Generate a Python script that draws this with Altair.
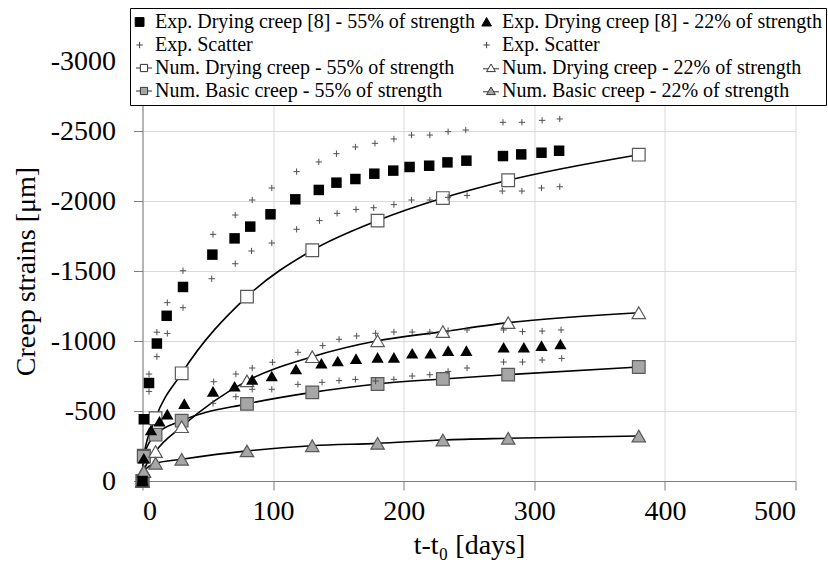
import json
import altair as alt
import pandas as pd

FONT = "Liberation Serif"

# ---------------- data ----------------
# Experimental drying creep, 55% of strength (black squares)
exp55_days = [0, 1, 5, 11, 18.5, 31, 53.5, 70.5, 82.5, 98, 117, 135, 148.5, 163,
              177.5, 192, 204.5, 219.5, 233.5, 248, 276, 290, 305.5, 319]
exp55_strain = [0, -441, -700, -982, -1180, -1386, -1617, -1733, -1817, -1905, -2012,
                -2079, -2131, -2157, -2195, -2217, -2243, -2252, -2276, -2288, -2321,
                -2333, -2345, -2359]

# Experimental scatter band, 55%
sc55_up_days = [5, 11, 19, 31, 54, 71, 84, 99, 118, 135, 148.5, 163, 178, 192.5, 206,
                220, 234, 247.5, 276, 290.5, 306, 319.5]
sc55_up = [-764, -1063, -1274, -1502, -1762, -1900, -2007, -2093, -2210, -2279, -2338,
           -2386, -2412, -2443, -2471, -2471, -2495, -2507, -2562, -2562, -2576, -2586]
sc55_lo_days = [5, 11, 19, 31, 53, 71, 83.5, 99, 118, 135.5, 149, 163.5, 177, 192.5,
                206, 220, 234, 248.5, 275.5, 290.5, 305.5, 319.5]
sc55_lo = [-640, -888, -1054, -1238, -1445, -1552, -1643, -1700, -1798, -1860, -1912,
           -1940, -1952, -1974, -2007, -2007, -2026, -2040, -2071, -2071, -2093, -2102]

# Experimental drying creep, 22% of strength (black triangles)
exp22_days = [0, 1, 6.5, 13, 19, 32, 54, 70.5, 84, 99, 117.5, 137, 149.5, 163.5, 180,
              192.5, 206.5, 220.5, 234, 248, 276.5, 292, 305.5, 320]
exp22_strain = [0, -162, -364, -427, -478, -553, -640, -677, -725, -750, -800, -841,
                -857, -874, -883, -883, -912, -912, -931, -931, -955, -955, -967, -979]

# Experimental scatter band, 22%
sc22_up_days = [54.5, 71.5, 84, 99.5, 119, 138, 150.5, 164, 178.5, 192.5, 206.5, 220,
                234, 248.5, 276.5, 291, 306, 320.5]
sc22_up = [-709, -764, -807, -848, -919, -967, -1012, -1036, -1055, -1064, -1064,
           -1064, -1074, -1079, -1079, -1067, -1071, -1079]
sc22_lo_days = [54, 71.5, 84, 99, 119, 137.5, 150.5, 163, 178.5, 192.5, 206.5, 220,
                234, 248.5, 276.5, 291, 306, 321]
sc22_lo = [-555, -602, -655, -655, -690, -705, -717, -726, -714, -726, -750, -759,
           -783, -807, -850, -850, -864, -876]

# Numerical results
num_days = [0, 1, 10, 30, 80, 130, 180, 230, 280, 380]
num_dry55 = [0, -180, -448, -769, -1317, -1648, -1860, -2021, -2148, -2331]
num_basic55 = [0, -174, -331, -431, -551, -633, -693, -729, -760, -814]
num_dry22 = [0, -70, -210, -388, -715, -888, -1002, -1067, -1131, -1202]
num_basic22 = [0, -67, -126, -155, -215, -252, -269, -293, -305, -321]

# Legend entries (column-major order: left column first, then right column)
legend_codes = ["e55", "s55", "nd55", "nb55", "e22", "s22", "nd22", "nb22"]
legend_labels = [
    "Exp. Drying creep [8] - 55% of strength",
    "Exp. Scatter",
    "Num. Drying creep - 55% of strength",
    "Num. Basic creep - 55% of strength",
    "Exp. Drying creep [8] - 22% of strength",
    "Exp. Scatter",
    "Num. Drying creep - 22% of strength",
    "Num. Basic creep - 22% of strength",
]
x_ticks = [0, 100, 200, 300, 400, 500]
y_ticks = [-3000, -2500, -2000, -1500, -1000, -500, 0]

# ---------------- styling ----------------
GRID = "#d9d9d9"
AXIS = "#7f7f7f"
GRAY = "#a6a6a6"
EDGE = "#595959"

PLUS = "M-1,0H1M0,-1V1"

# legend symbol paths (unit box -1..1, 16 px wide)
LG_SQ = "M-1.1,-0.55H0V0.55H-1.1Z"
LG_PLUS = "M-0.95,0H-0.15M-0.55,-0.4V0.4"
LG_TRI = "M-0.55,-0.55L0.05,0.5L-1.15,0.5Z"
LG_NSQ = "M-1,0H-0.45M0.45,0H1M-0.45,-0.45H0.45V0.45H-0.45Z"
LG_NTRI = "M-1,0.1H-0.35M0.35,0.1H1M0,-0.5L0.55,0.45L-0.55,0.45Z"

xaxis = alt.Axis(values=x_ticks, format="d", grid=True, gridColor=GRID, domainColor=AXIS,
                 tickColor=AXIS, tickSize=9, labelFont=FONT, labelFontSize=28,
                 labelColor="black", labelPadding=7, title="t-t\u2080 [days]",
                 titleFont=FONT, titleFontSize=28, titleFontWeight="normal",
                 titleColor="black", titlePadding=6)
yaxis = alt.Axis(values=y_ticks, grid=True, gridColor=GRID, domainColor=AXIS,
                 tickColor=AXIS, tickSize=9, labelFont=FONT, labelFontSize=28,
                 labelColor="black", labelPadding=18, labelExpr="'' + datum.value",
                 title="Creep strains [\u03bcm]", titleFont=FONT, titleFontSize=28,
                 titleFontWeight="normal", titleColor="black", titlePadding=10)

xs = alt.Scale(domain=[0, 500], nice=False, zero=False)
ys = alt.Scale(domain=[-3000, 0], reverse=True, nice=False, zero=False)


def enc(ch):
    return ch.encode(x=alt.X("d:Q", scale=xs, axis=xaxis),
                     y=alt.Y("v:Q", scale=ys, axis=yaxis))


def df(days, vals):
    return pd.DataFrame({"d": days, "v": vals})


layers = []
# numerical lines
for vals in [num_dry55, num_basic55, num_dry22, num_basic22]:
    layers.append(enc(alt.Chart(df(num_days, vals)).mark_line(
        color="black", strokeWidth=1.6, interpolate="monotone")))

# numerical markers
num_styles = [
    (num_dry55, "square", "white", 160),
    (num_basic55, "square", GRAY, 160),
    (num_dry22, "triangle-up", "white", 180),
    (num_basic22, "triangle-up", GRAY, 180),
]
for vals, shp, fill, size in num_styles:
    layers.append(enc(alt.Chart(df(num_days, vals)).mark_point(
        shape=shp, fill=fill, stroke=EDGE, strokeWidth=1.2, size=size,
        opacity=1, fillOpacity=1)))

# experimental markers
layers.append(enc(alt.Chart(df(exp55_days, exp55_strain)).mark_point(
    shape="square", filled=True, color="black", size=110, opacity=1)))
layers.append(enc(alt.Chart(df(exp22_days, exp22_strain)).mark_point(
    shape="triangle-up", filled=True, color="black", size=150, opacity=1)))
for days, vals in [(sc55_up_days, sc55_up), (sc55_lo_days, sc55_lo),
                   (sc22_up_days, sc22_up), (sc22_lo_days, sc22_lo)]:
    layers.append(enc(alt.Chart(df(days, vals)).mark_point(
        shape=PLUS, color="#505050", strokeWidth=1, size=40, opacity=1)))

# legend-only layer (points lie outside the x-domain and are clipped)
leg_df = pd.DataFrame({"s": legend_codes, "d": [-100] * 8, "v": [0] * 8})
label_map = json.dumps(dict(zip(legend_codes, legend_labels)))
leg = alt.Legend(orient="none", legendX=-12.5, legendY=-53, columns=2, title=None,
                 labelFont=FONT, labelFontSize=20, labelColor="black", labelLimit=1000,
                 labelOffset=1, symbolSize=256, symbolStrokeWidth=1, rowPadding=3,
                 columnPadding=4, padding=4, strokeColor="black", fillColor="white",
                 labelExpr=label_map + "[datum.value]", symbolOpacity=1)
leg_shapes = [LG_SQ, LG_PLUS, LG_NSQ, LG_NSQ, LG_TRI, LG_PLUS, LG_NTRI, LG_NTRI]
leg_fills = ["black", "white", "white", GRAY, "black", "white", "white", GRAY]
leg_strokes = ["black", "#404040", "#333333", "#333333", "black", "#404040",
               "#333333", "#333333"]
legend_layer = enc(alt.Chart(leg_df).mark_point(clip=True, opacity=1, size=256,
                                                  strokeWidth=1)).encode(
    shape=alt.Shape("s:N", scale=alt.Scale(domain=legend_codes, range=leg_shapes),
                    legend=leg),
    fill=alt.Fill("s:N", scale=alt.Scale(domain=legend_codes, range=leg_fills),
                  legend=leg),
    stroke=alt.Stroke("s:N", scale=alt.Scale(domain=legend_codes, range=leg_strokes),
                      legend=leg),
)
layers.append(legend_layer)

chart = alt.layer(*layers).properties(
    width=653, height=420,
    autosize=alt.AutoSizeParams(type="none"),
    padding={"left": 142.5, "top": 61, "right": 32.5, "bottom": 93},
    background="white",
).configure(font=FONT).configure_view(stroke=None)

chart.save("out.html", embed_options={"renderer": "svg", "actions": False})
